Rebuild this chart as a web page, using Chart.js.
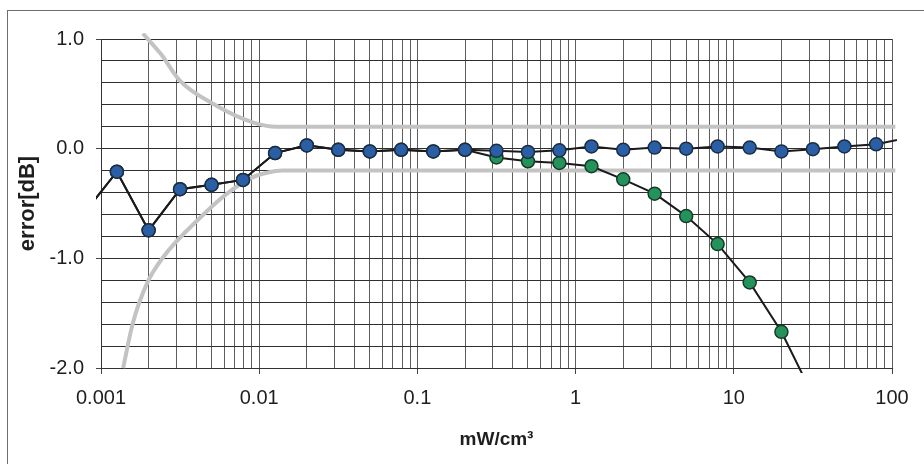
<!DOCTYPE html>
<html>
<head>
<meta charset="utf-8">
<script src="https://cdn.jsdelivr.net/npm/chart.js@4/dist/chart.umd.min.js"></script>
<style>
  html, body { margin: 0; padding: 0; background: #fff; }
  #wrap { position: relative; width: 924px; height: 464px; overflow: hidden; }
  #frame {
    position: absolute; left: 7px; top: 10px; right: -10px; bottom: -10px;
    border-top: 1.5px solid #6e6e6e; border-left: 1.5px solid #6e6e6e;
  }
  #chart { position: absolute; left: 0; top: 0; }
</style>
</head>
<body>
<div id="wrap">
  <div id="frame"></div>
  <canvas id="chart" width="924" height="464"></canvas>
</div>
<script>
// power levels (mW/cm3), 5 readings per decade; first and last sit just outside the axis
const powerLevels = [0.00079, 0.00126, 0.002, 0.00316, 0.005, 0.0079, 0.0126, 0.02, 0.0316, 0.05,
                     0.079, 0.126, 0.2, 0.316, 0.5, 0.79, 1.26, 2.0, 3.16, 5.0,
                     7.9, 12.6, 20, 31.6, 50, 79.4, 126];

// corrected reading (blue)
const errorCorrected = [-0.58, -0.21, -0.745, -0.37, -0.33, -0.285, -0.04, 0.03, -0.01, -0.025,
                        -0.01, -0.025, -0.01, -0.02, -0.03, -0.015, 0.02, -0.01, 0.01, 0.0,
                        0.02, 0.01, -0.025, -0.005, 0.02, 0.04, 0.10];

// uncorrected reading (green), drops off at high power
const errorRaw = [-0.58, -0.21, -0.745, -0.37, -0.33, -0.285, -0.04, 0.03, -0.01, -0.025,
                  -0.01, -0.025, -0.01, -0.08, -0.115, -0.13, -0.16, -0.28, -0.41, -0.615,
                  -0.87, -1.22, -1.67, -2.25, null, null, null];

// tolerance limits (gray)
const upperLimitX = [0.00184, 0.0024, 0.00315, 0.0051, 0.0091, 0.0129, 0.02, 105];
const upperLimitY = [1.05, 0.86, 0.62, 0.41, 0.24, 0.2, 0.2, 0.2];
const lowerLimitX = [0.00138, 0.00159, 0.00195, 0.00247, 0.00423, 0.00626, 0.00914, 0.0112, 0.014, 105];
const lowerLimitY = [-2.0, -1.59, -1.23, -0.99, -0.63, -0.41, -0.26, -0.22, -0.2, -0.2];

// axes
const xDecades = [0.001, 0.01, 0.1, 1, 10, 100];
const xTickLabels = ['0.001', '0.01', '0.1', '1', '10', '100'];
const xMinorSteps = [1, 2, 3, 4, 5, 6, 7, 8, 9];
const yMajorValues = [1, 0, -1, -2];
const yTickLabels = ['1.0', '0.0', '-1.0', '-2.0'];

function pairs(xs, ys) {
    return xs.map((x, i) => ({ x: x, y: ys[i] }));
}

function decadeIndex(v) {
    return xDecades.findIndex(d => Math.abs(v / d - 1) < 1e-6);
}

function yMajorIndex(v) {
    return yMajorValues.findIndex(m => Math.abs(v - m) < 1e-6);
}

const fontFamily = "'Liberation Sans', Arial, sans-serif";
const lineColor = '#1a1a1a';
const grayColor = '#c3c3c3';
const clipBox = { left: 5, right: 5, top: 6, bottom: 5 };

const ctx = document.getElementById('chart').getContext('2d');
new Chart(ctx, {
    type: 'line',
    data: {
        datasets: [
            {
                label: 'corrected',
                data: pairs(powerLevels, errorCorrected),
                borderColor: lineColor,
                borderWidth: 2,
                pointRadius: 6.5,
                pointBorderWidth: 1.5,
                pointBackgroundColor: '#2a5fa6',
                pointBorderColor: '#1b2d44',
                tension: 0,
                clip: clipBox,
                order: 1
            },
            {
                label: 'raw',
                data: pairs(powerLevels, errorRaw),
                borderColor: lineColor,
                borderWidth: 2,
                pointRadius: 6.5,
                pointBorderWidth: 1.5,
                pointBackgroundColor: '#24935b',
                pointBorderColor: '#173a28',
                tension: 0,
                clip: clipBox,
                order: 2
            },
            {
                label: 'upper limit',
                data: pairs(upperLimitX, upperLimitY),
                borderColor: grayColor,
                borderWidth: 4,
                pointRadius: 0,
                cubicInterpolationMode: 'monotone',
                clip: clipBox,
                order: 3
            },
            {
                label: 'lower limit',
                data: pairs(lowerLimitX, lowerLimitY),
                borderColor: grayColor,
                borderWidth: 4,
                pointRadius: 0,
                cubicInterpolationMode: 'monotone',
                clip: clipBox,
                order: 3
            }
        ]
    },
    options: {
        responsive: false,
        animation: false,
        layout: { padding: { left: 0, right: 32, top: 39, bottom: 0 } },
        plugins: { legend: { display: false }, tooltip: { enabled: false } },
        scales: {
            x: {
                type: 'logarithmic',
                min: 0.001,
                max: 100,
                afterBuildTicks: scale => {
                    const ticks = [];
                    xDecades.forEach((d, i) => {
                        if (i === xDecades.length - 1) {
                            ticks.push({ value: d });
                            return;
                        }
                        xMinorSteps.forEach(m => ticks.push({ value: d * m }));
                    });
                    scale.ticks = ticks;
                },
                afterFit: scale => { scale.height = 96; },
                grid: {
                    color: '#5e5e5e',
                    lineWidth: 1,
                    tickLength: 6,
                    tickColor: c => decadeIndex(c.tick.value) >= 0 ? '#444' : 'rgba(0,0,0,0)'
                },
                border: { display: true, color: '#333', width: 1 },
                ticks: {
                    autoSkip: false,
                    maxRotation: 0,
                    padding: 12,
                    color: '#1e1e1e',
                    font: { family: fontFamily, size: 20 },
                    callback: v => {
                        const i = decadeIndex(v);
                        return i >= 0 ? xTickLabels[i] : '';
                    }
                },
                title: {
                    display: true,
                    text: 'mW/cm\u00b3',
                    color: '#1e1e1e',
                    font: { family: fontFamily, size: 19, weight: 'bold' },
                    padding: { top: 0, bottom: 13 }
                }
            },
            y: {
                min: -2,
                max: 1,
                afterFit: scale => { scale.width = 101; },
                grid: {
                    color: '#2e2e2e',
                    lineWidth: 1,
                    tickLength: 5,
                    tickColor: c => yMajorIndex(c.tick.value) >= 0 ? '#444' : 'rgba(0,0,0,0)'
                },
                border: { display: true, color: '#333', width: 1 },
                ticks: {
                    stepSize: 0.2,
                    autoSkip: false,
                    padding: 12,
                    color: '#1e1e1e',
                    font: { family: fontFamily, size: 20 },
                    callback: v => {
                        const i = yMajorIndex(v);
                        return i >= 0 ? yTickLabels[i] : '';
                    }
                },
                title: {
                    display: true,
                    text: 'error[dB]',
                    color: '#1e1e1e',
                    font: { family: fontFamily, size: 22, weight: 'bold' },
                    padding: { top: 15, bottom: 0 }
                }
            }
        }
    }
});
</script>
</body>
</html>
